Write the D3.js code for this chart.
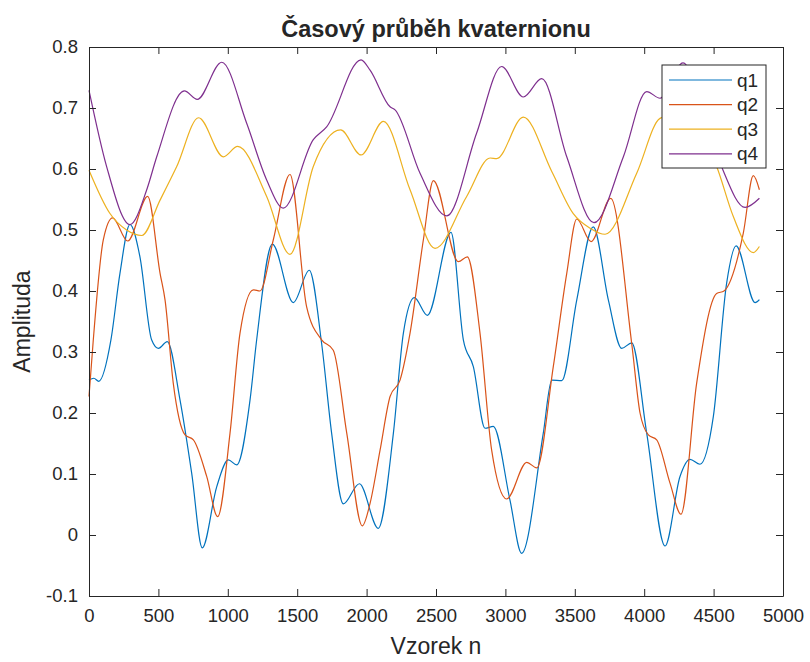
<!DOCTYPE html>
<html>
<head>
<meta charset="utf-8">
<script src="https://cdn.jsdelivr.net/npm/d3@7"></script>
<style>
  html, body { margin: 0; padding: 0; background: #fff; }
  svg text { font-family: "Liberation Sans", Arial, Helvetica, sans-serif; fill: #262626; }
</style>
</head>
<body>
<svg id="chart" width="810" height="662"></svg>
<script>
// Quaternion components: [sample index, amplitude] knots
const q1 = [
  [0,0.254],[35,0.257],[70,0.252],[158,0.320],[223,0.429],[295,0.509],[367,0.456],[451,0.320],
  [500,0.306],[564,0.317],[656,0.221],[740,0.101],[816,-0.021],[920,0.079],[1004,0.123],[1064,0.115],
  [1160,0.221],[1208,0.320],[1321,0.477],[1472,0.381],[1587,0.434],[1676,0.314],[1748,0.167],
  [1832,0.051],[1948,0.084],[2084,0.011],[2193,0.167],[2265,0.331],[2344,0.389],[2438,0.360],
  [2608,0.496],[2697,0.320],[2769,0.276],[2853,0.175],[2913,0.178],[3033,0.057],[3117,-0.030],
  [3273,0.167],[3334,0.254],[3406,0.253],[3514,0.385],[3633,0.505],[3742,0.385],[3838,0.306],
  [3910,0.315],[4018,0.167],[4150,-0.018],[4258,0.096],[4330,0.124],[4402,0.116],[4498,0.194],
  [4594,0.413],[4662,0.474],[4799,0.381],[4830,0.386]
];
const q2 = [
  [0,0.227],[31,0.320],[103,0.484],[170,0.520],[279,0.482],[423,0.555],[512,0.429],[548,0.385],
  [607,0.249],[692,0.164],[752,0.156],[848,0.096],[927,0.030],[1016,0.167],[1088,0.331],
  [1184,0.402],[1232,0.400],[1328,0.484],[1448,0.591],[1568,0.374],[1676,0.320],[1760,0.303],
  [1857,0.167],[1969,0.015],[2025,0.052],[2097,0.139],[2169,0.227],[2241,0.254],[2313,0.331],
  [2409,0.484],[2481,0.581],[2661,0.448],[2726,0.456],[2817,0.331],[2901,0.139],[3009,0.059],
  [3154,0.119],[3226,0.110],[3345,0.276],[3442,0.429],[3514,0.518],[3617,0.481],[3759,0.552],
  [3910,0.314],[3970,0.200],[4030,0.164],[4090,0.156],[4186,0.085],[4265,0.034],[4378,0.249],
  [4522,0.396],[4575,0.400],[4714,0.495],[4786,0.589],[4830,0.566]
];
const q3 = [
  [0,0.598],[151,0.527],[271,0.500],[380,0.491],[512,0.549],[632,0.604],[790,0.684],[968,0.620],
  [1071,0.637],[1280,0.555],[1448,0.460],[1616,0.604],[1813,0.664],[1960,0.623],[2121,0.678],
  [2313,0.566],[2493,0.470],[2721,0.555],[2890,0.618],[2937,0.617],[3129,0.685],[3334,0.596],
  [3489,0.527],[3610,0.503],[3718,0.493],[3946,0.593],[4114,0.683],[4230,0.690],[4400,0.660],
  [4522,0.604],[4642,0.522],[4786,0.463],[4830,0.473]
];
const q4 = [
  [0,0.729],[127,0.604],[295,0.509],[416,0.566],[488,0.620],[687,0.728],[780,0.714],[956,0.775],
  [1136,0.675],[1280,0.582],[1400,0.536],[1616,0.648],[1712,0.669],[1960,0.779],[2025,0.762],
  [2169,0.702],[2205,0.697],[2385,0.593],[2577,0.523],[2793,0.659],[2973,0.768],[3129,0.718],
  [3262,0.748],[3442,0.620],[3638,0.512],[3850,0.620],[4018,0.727],[4114,0.716],[4280,0.774],
  [4420,0.700],[4568,0.598],[4727,0.537],[4830,0.552]
];
const seriesNames = ["q1", "q2", "q3", "q4"];
const seriesColors = ["#0072BD", "#D95319", "#EDB120", "#7E2F8E"];
const xTicks = [0, 500, 1000, 1500, 2000, 2500, 3000, 3500, 4000, 4500, 5000];
const yTicks = [-0.1, 0, 0.1, 0.2, 0.3, 0.4, 0.5, 0.6, 0.7, 0.8];
const yTickLabels = ["-0.1", "0", "0.1", "0.2", "0.3", "0.4", "0.5", "0.6", "0.7", "0.8"];
const titleText = "Časový průběh kvaternionu";
const xLabel = "Vzorek n";
const yLabel = "Amplituda";

const svg = d3.select("#chart");
const m = { left: 89, right: 783, top: 47, bottom: 596 };
const x = d3.scaleLinear().domain([0, 5000]).range([m.left, m.right]);
const y = d3.scaleLinear().domain([-0.1, 0.8]).range([m.bottom, m.top]);
const axisColor = "#262626";
const tickLen = 7;

// data lines
const line = d3.line().x(d => x(d[0])).y(d => y(d[1])).curve(d3.curveMonotoneX);
[q1, q2, q3, q4].forEach((s, i) => {
  svg.append("path").datum(s)
    .attr("d", line)
    .attr("fill", "none")
    .attr("stroke", seriesColors[i])
    .attr("stroke-width", 1.2);
});

// axes (box with inward ticks on all sides)
function styleAxis(g) {
  g.select(".domain").attr("stroke", axisColor);
  g.selectAll(".tick line").attr("stroke", axisColor);
  g.selectAll(".tick text").attr("fill", axisColor)
    .style("font-size", "18.5px").style("font-family", "'Liberation Sans', Arial, sans-serif");
}
svg.append("g").attr("transform", `translate(0,${m.bottom})`)
  .call(d3.axisBottom(x).tickValues(xTicks).tickFormat(d3.format("d")).tickSizeInner(-tickLen).tickSizeOuter(0).tickPadding(13))
  .call(styleAxis);
svg.append("g").attr("transform", `translate(0,${m.top})`)
  .call(d3.axisTop(x).tickValues(xTicks).tickFormat("").tickSizeInner(-tickLen).tickSizeOuter(0))
  .call(styleAxis);
svg.append("g").attr("transform", `translate(${m.left},0)`)
  .call(d3.axisLeft(y).tickValues(yTicks).tickFormat((d, i) => yTickLabels[i]).tickSizeInner(-tickLen).tickSizeOuter(0).tickPadding(11))
  .call(styleAxis);
svg.append("g").attr("transform", `translate(${m.right},0)`)
  .call(d3.axisRight(y).tickValues(yTicks).tickFormat("").tickSizeInner(-tickLen).tickSizeOuter(0))
  .call(styleAxis);

// title and axis labels
svg.append("text").attr("x", (m.left + m.right) / 2).attr("y", 37)
  .attr("text-anchor", "middle").style("font-size", "23.5px").style("font-weight", "bold")
  .attr("fill", "#000").text(titleText);
svg.append("text").attr("x", (m.left + m.right) / 2).attr("y", 654)
  .attr("text-anchor", "middle").style("font-size", "23px").text(xLabel);
svg.append("text").attr("transform", `translate(30,${(m.top + m.bottom) / 2}) rotate(-90)`)
  .attr("text-anchor", "middle").style("font-size", "23px").text(yLabel);

// legend
const lg = svg.append("g");
lg.append("rect").attr("x", 662).attr("y", 65).attr("width", 104).attr("height", 103)
  .attr("fill", "#fff").attr("stroke", "#262626").attr("stroke-width", 1);
seriesNames.forEach((name, i) => {
  const yy = 80 + i * 24.6;
  lg.append("line").attr("x1", 669).attr("x2", 732).attr("y1", yy).attr("y2", yy)
    .attr("stroke", seriesColors[i]).attr("stroke-width", 1.2);
  lg.append("text").attr("x", 737).attr("y", yy).attr("dy", "0.35em")
    .style("font-size", "19px").attr("fill", "#000").text(name);
});
</script>
</body>
</html>
